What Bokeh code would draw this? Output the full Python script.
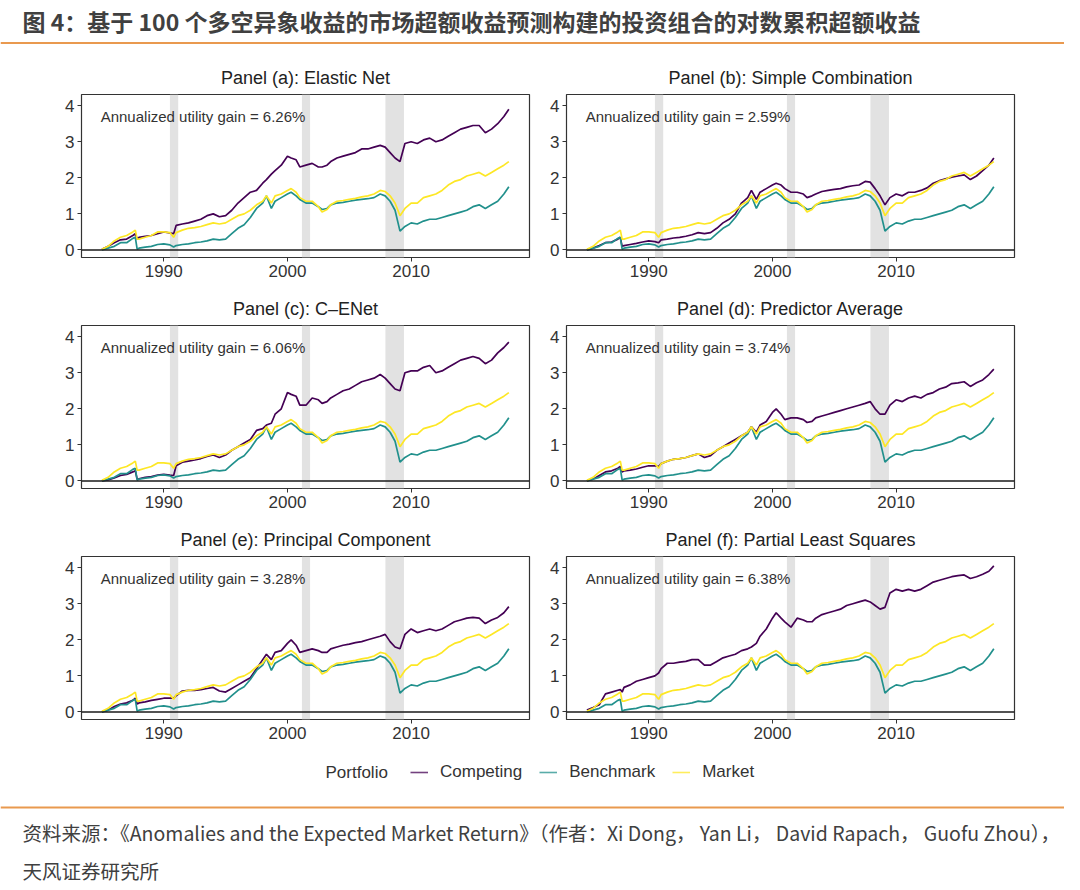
from bokeh.plotting import figure
from bokeh.models import Range1d, FixedTicker, BoxAnnotation, Span, Label, Legend, LegendItem
from bokeh.layouts import column, row
from bokeh.embed import file_html
from bokeh.resources import INLINE

# ---------------- data ----------------
years = [1985.0, 1985.5, 1986.0, 1986.5, 1987.0, 1987.5, 1987.7, 1987.85,
         1988.0, 1988.5, 1989.0, 1989.5, 1990.0, 1990.5, 1990.8,
         1991.0, 1991.5, 1992.0, 1992.5, 1993.0, 1993.5, 1994.0, 1994.5, 1995.0, 1995.5, 1996.0, 1996.5, 1997.0, 1997.5, 1998.0,
         1998.3, 1998.7, 1999.0, 1999.5, 2000.0, 2000.3, 2000.7, 2001.0,
         2001.5, 2002.0, 2002.5, 2002.8, 2003.2,
         2003.5, 2004.0, 2004.5, 2005.0, 2005.5, 2006.0, 2006.5, 2007.0, 2007.5,
         2007.9, 2008.3, 2008.7, 2009.1, 2009.5,
         2010.0, 2010.5, 2011.0, 2011.5, 2012.0, 2012.5, 2013.0, 2013.5, 2014.0, 2014.5, 2015.0, 2015.5, 2016.0, 2016.5, 2017.0, 2017.5, 2017.9]

benchmark = [0.00, 0.05, 0.10, 0.20, 0.20, 0.32, 0.35, 0.02,
             0.05, 0.08, 0.10, 0.15, 0.17, 0.14, 0.08,
             0.12, 0.15, 0.17, 0.20, 0.22, 0.25, 0.30, 0.28, 0.30, 0.45, 0.60, 0.70, 0.90, 1.15, 1.30,
             1.50, 1.15, 1.35, 1.45, 1.55, 1.60, 1.50, 1.40,
             1.30, 1.30, 1.20, 1.12, 1.15,
             1.25, 1.30, 1.32, 1.35, 1.38, 1.40, 1.42, 1.45, 1.55,
             1.50, 1.35, 1.10, 0.52, 0.65,
             0.75, 0.72, 0.80, 0.85, 0.85, 0.90, 0.95, 1.00, 1.05, 1.10, 1.20, 1.25, 1.15, 1.25, 1.35, 1.55, 1.75]

market = [0.02, 0.10, 0.25, 0.35, 0.40, 0.50, 0.55, 0.30,
          0.30, 0.35, 0.40, 0.50, 0.50, 0.48, 0.35,
          0.48, 0.55, 0.60, 0.62, 0.65, 0.70, 0.75, 0.72, 0.75, 0.85, 0.95, 1.00, 1.10, 1.25, 1.35,
          1.50, 1.30, 1.50, 1.55, 1.65, 1.70, 1.60, 1.45,
          1.35, 1.35, 1.20, 1.05, 1.12,
          1.25, 1.35, 1.37, 1.40, 1.43, 1.47, 1.50, 1.55, 1.65,
          1.62, 1.50, 1.30, 0.95, 1.15,
          1.30, 1.30, 1.45, 1.50, 1.55, 1.65, 1.80, 1.90, 1.95, 2.05, 2.10, 2.15, 2.05, 2.15, 2.25, 2.35, 2.45]

competing_a = [0.02, 0.10, 0.20, 0.28, 0.30, 0.40, 0.45, 0.30,
               0.35, 0.38, 0.40, 0.45, 0.50, 0.47, 0.45,
               0.68, 0.72, 0.75, 0.80, 0.85, 0.95, 1.00, 0.92, 0.95, 1.10, 1.30, 1.45, 1.60, 1.65, 1.85,
               1.95, 2.10, 2.20, 2.35, 2.60, 2.55, 2.50, 2.30,
               2.35, 2.40, 2.30, 2.30, 2.35,
               2.45, 2.55, 2.60, 2.65, 2.70, 2.80, 2.80, 2.85, 2.90,
               2.85, 2.70, 2.55, 2.45, 2.95,
               3.00, 2.95, 3.05, 3.10, 3.00, 3.05, 3.15, 3.25, 3.35, 3.40, 3.45, 3.45, 3.25, 3.35, 3.50, 3.70, 3.90]

competing_b = [0.00, 0.05, 0.12, 0.20, 0.22, 0.30, 0.35, 0.10,
               0.12, 0.15, 0.18, 0.22, 0.25, 0.23, 0.20,
               0.28, 0.30, 0.33, 0.35, 0.38, 0.42, 0.48, 0.45, 0.48, 0.60, 0.75, 0.85, 1.00, 1.30, 1.45,
               1.65, 1.40, 1.60, 1.70, 1.80, 1.85, 1.80, 1.70,
               1.60, 1.60, 1.55, 1.45, 1.50,
               1.55, 1.62, 1.65, 1.68, 1.70, 1.75, 1.78, 1.80, 1.90,
               1.88, 1.70, 1.50, 1.25, 1.45,
               1.55, 1.50, 1.60, 1.60, 1.65, 1.72, 1.85, 1.92, 1.97, 2.02, 2.05, 2.08, 1.95, 2.05, 2.20, 2.35, 2.55]

competing_c = [0.00, 0.03, 0.08, 0.15, 0.18, 0.25, 0.28, 0.05,
               0.06, 0.10, 0.12, 0.16, 0.18, 0.16, 0.15,
               0.42, 0.52, 0.55, 0.58, 0.62, 0.68, 0.72, 0.65, 0.72, 0.85, 0.95, 1.05, 1.15, 1.40, 1.45,
               1.55, 1.60, 1.85, 2.00, 2.45, 2.40, 2.35, 2.10,
               2.10, 2.30, 2.25, 2.15, 2.20,
               2.30, 2.40, 2.50, 2.55, 2.65, 2.75, 2.80, 2.85, 2.95,
               2.85, 2.70, 2.55, 2.50, 3.00,
               3.05, 3.05, 3.15, 3.20, 3.00, 3.05, 3.15, 3.25, 3.35, 3.40, 3.45, 3.40, 3.25, 3.35, 3.55, 3.70, 3.85]

competing_d = [0.00, 0.05, 0.15, 0.25, 0.28, 0.35, 0.40, 0.25,
               0.28, 0.30, 0.33, 0.38, 0.42, 0.42, 0.40,
               0.48, 0.55, 0.60, 0.62, 0.65, 0.70, 0.75, 0.65, 0.70, 0.85, 0.95, 1.05, 1.15, 1.25, 1.35,
               1.50, 1.35, 1.55, 1.65, 1.90, 2.00, 1.85, 1.70,
               1.75, 1.75, 1.70, 1.62, 1.65,
               1.75, 1.80, 1.85, 1.90, 1.95, 2.00, 2.05, 2.10, 2.15,
               2.20, 2.00, 1.85, 1.85, 2.10,
               2.25, 2.20, 2.30, 2.35, 2.30, 2.40, 2.45, 2.55, 2.60, 2.70, 2.72, 2.75, 2.62, 2.72, 2.80, 2.95, 3.10]

competing_e = [0.00, 0.05, 0.15, 0.22, 0.25, 0.32, 0.38, 0.22,
               0.25, 0.28, 0.32, 0.35, 0.38, 0.38, 0.38,
               0.45, 0.58, 0.60, 0.60, 0.62, 0.65, 0.68, 0.58, 0.55, 0.65, 0.75, 0.85, 0.95, 1.20, 1.45,
               1.60, 1.45, 1.65, 1.70, 1.90, 2.00, 1.85, 1.65,
               1.70, 1.75, 1.70, 1.65, 1.65,
               1.75, 1.80, 1.85, 1.88, 1.92, 1.95, 2.00, 2.05, 2.10,
               2.15, 1.95, 1.80, 1.75, 2.15,
               2.30, 2.20, 2.25, 2.30, 2.25, 2.30, 2.40, 2.50, 2.55, 2.60, 2.62, 2.60, 2.45, 2.55, 2.62, 2.75, 2.92]

competing_f = [0.05, 0.12, 0.20, 0.50, 0.55, 0.60, 0.62, 0.55,
               0.68, 0.75, 0.85, 0.90, 0.95, 1.00, 1.08,
               1.20, 1.35, 1.35, 1.38, 1.40, 1.45, 1.45, 1.30, 1.30, 1.40, 1.50, 1.55, 1.60, 1.70, 1.75,
               1.80, 1.90, 2.10, 2.30, 2.60, 2.75, 2.60, 2.50,
               2.35, 2.60, 2.55, 2.50, 2.50,
               2.60, 2.70, 2.75, 2.80, 2.85, 2.95, 3.00, 3.05, 3.10,
               3.05, 2.95, 2.85, 2.90, 3.30,
               3.40, 3.35, 3.40, 3.35, 3.40, 3.50, 3.60, 3.65, 3.70, 3.75, 3.78, 3.80, 3.70, 3.75, 3.82, 3.90, 4.05]

competing = [competing_a, competing_b, competing_c, competing_d, competing_e, competing_f]
panel_titles = ["Panel (a): Elastic Net", "Panel (b): Simple Combination", "Panel (c): C\u2013ENet",
                "Panel (d): Predictor Average", "Panel (e): Principal Component", "Panel (f): Partial Least Squares"]
utility_gains = ["6.26%", "2.59%", "6.06%", "3.74%", "3.28%", "6.38%"]
recession_start = [1990.5, 2001.17, 2007.92]
recession_end = [1991.17, 2001.83, 2009.42]
x_ticks = [1990, 2000, 2010]
y_ticks = [0, 1, 2, 3, 4]
series_names = ["Competing", "Benchmark", "Market"]
series_colors = ["#440154", "#21908C", "#FDE725"]

chart_title = "图 4：基于 100 个多空异象收益的市场超额收益预测构建的投资组合的对数累积超额收益"
source_line1 = "资料来源：《Anomalies and the Expected Market Return》（作者：Xi Dong， Yan Li， David Rapach， Guofu Zhou），"
source_line2 = "天风证券研究所"

for s in [benchmark, market] + competing:
    assert len(s) == len(years)

ORANGE = "#E9994F"
LATIN = "Liberation Sans"
CJK = "Noto Sans CJK SC"
W = 1064


def blank(width, height):
    f = figure(width=width, height=height, x_range=Range1d(0, width), y_range=Range1d(height, 0),
               output_backend="svg", toolbar_location=None, min_border=0,
               x_axis_location=None, y_axis_location=None)
    f.xgrid.visible = False
    f.ygrid.visible = False
    f.outline_line_color = None
    return f


# header
header = blank(W, 60)
header.add_layout(Label(x=22, y=20, text=chart_title, text_font=CJK, text_font_size="23px",
                        text_font_style="bold", text_color="#404040", text_baseline="middle"))
header.add_layout(Span(location=42.5, dimension="width", line_color=ORANGE, line_width=2))


def make_panel(i):
    left = (i % 2 == 0)
    p = figure(width=532, height=231,
               x_range=Range1d(1983.35, 2019.57), y_range=Range1d(-0.21, 4.31),
               output_backend="svg", toolbar_location=None,
               min_border_left=81 if left else 34, min_border_right=3 if left else 50,
               min_border_top=33, min_border_bottom=34)
    p.title.text = panel_titles[i]
    p.title.align = "center"
    p.title.vertical_align = "middle"
    p.title.text_font = LATIN
    p.title.text_font_size = "18px"
    p.title.text_font_style = "normal"
    p.title.text_color = "#222222"
    p.title.standoff = 12
    p.xgrid.visible = False
    p.ygrid.visible = False
    p.outline_line_color = "#333333"
    p.outline_line_width = 1.2
    p.xaxis.ticker = FixedTicker(ticks=x_ticks)
    p.yaxis.ticker = FixedTicker(ticks=y_ticks)
    for ax in (p.xaxis, p.yaxis):
        ax.axis_line_color = None
        ax.major_tick_out = 4
        ax.major_tick_in = 0
        ax.minor_tick_out = 0
        ax.minor_tick_in = 0
        ax.major_tick_line_color = "#333333"
        ax.major_label_text_font = LATIN
        ax.major_label_text_font_size = "17px"
        ax.major_label_text_color = "#333333"
        ax.major_label_standoff = 3
    for s, e in zip(recession_start, recession_end):
        p.add_layout(BoxAnnotation(left=s, right=e, fill_color="#E2E2E2", fill_alpha=1.0,
                                   line_color=None, level="underlay"))
    for data, col in zip([competing[i], benchmark, market], series_colors):
        p.line(years, data, line_color=col, line_width=1.7)
    p.add_layout(Span(location=0, dimension="width", line_color="#1a1a1a", line_width=1.5))
    p.add_layout(Label(x=1984.9, y=3.7, text="Annualized utility gain = " + utility_gains[i],
                       text_font=LATIN, text_font_size="15px", text_color="#333333",
                       text_baseline="middle", text_align="left"))
    return p


panels = [make_panel(i) for i in range(6)]

# legend
leg = blank(W, 37)
nan = float("nan")
rends = [leg.line([nan, nan], [nan, nan], line_color=c, line_width=1.6, line_alpha=0.75) for c in series_colors]
leg.add_layout(Label(x=325, y=18.5, text="Portfolio", text_font=LATIN, text_font_size="17px",
                     text_color="#333333", text_baseline="middle"))
legend = Legend(items=[LegendItem(label=n, renderers=[r]) for n, r in zip(series_names, rends)],
                orientation="horizontal", location=(410, 8), glyph_width=18, glyph_height=20,
                label_standoff=12, spacing=17, padding=0, margin=0, border_line_color=None,
                background_fill_alpha=0, label_text_font=LATIN, label_text_font_size="17px",
                label_text_color="#333333")
leg.add_layout(legend)

# footer
footer = blank(W, 96)
footer.add_layout(Span(location=17, dimension="width", line_color=ORANGE, line_width=2))
footer.add_layout(Label(x=22, y=42, text=source_line1, text_font=CJK, text_font_size="19.5px",
                        text_color="#404040", text_baseline="middle"))
footer.add_layout(Label(x=22, y=80, text=source_line2, text_font=CJK, text_font_size="19.5px",
                        text_color="#404040", text_baseline="middle"))

layout = column(header,
                row(panels[0], panels[1]),
                row(panels[2], panels[3]),
                row(panels[4], panels[5]),
                leg, footer)

open("out.html", "w").write(file_html(layout, INLINE))
